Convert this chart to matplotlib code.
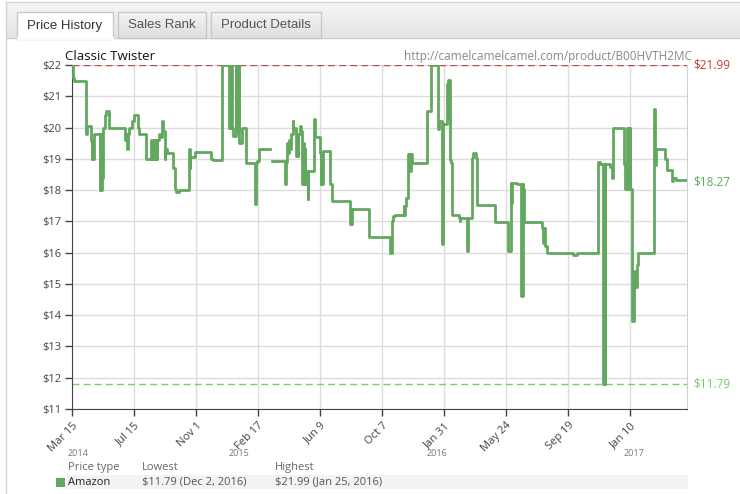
import numpy as np
import matplotlib
matplotlib.use("Agg")
import matplotlib.pyplot as plt
import matplotlib.transforms as mtransforms
from matplotlib.patches import Rectangle

plt.rcParams["font.family"] = ["Open Sans", "DejaVu Sans"]

title = "Classic Twister"
url = "http://camelcamelcamel.com/product/B00HVTH2MC"
tabs = ["Price History", "Sales Rank", "Product Details"]

# Amazon price, x = days since Mar 15 2014 (nan = gap in the record)
days = [0, 1, 4, 26.6, 27.5, 34.6, 36.4, 37.5, 39, 40.7, 51, 52.5, 54, 55.5, 57.4,
        60.5, 62, 68.5, 97.5, 100, 101.8, 104, 105.5, 111.7, 114.7, 122, 124, 137.6,
        146.9, 148, 151, 152, 156, 157, 158, 160, 162.2, 167.2, 168.5, 171.5, 172.5,
        175.8, 186.9, 190, 192, 197.4, 216, 217.7, 218.5, 227, 257.9, 260, 262, 264,
        268, 276.4, 291, 292, 293, 294.5, 296, 297.9, 302.8, 304, 305, 307, 308, 309,
        313.4, 321.3, 322.6, 338, 339.5, 342.3, 346, 351, 353, 357, 359, 366, 368.9,
        374, 377, 381, 384, 393.5, 395, 397, 399, 401, 403, 405, 407.7, 409, 414,
        415.5, 417, 418.5, 421, 423.5, 425, 426.5, 428, 430, 431, 433, 436, 437,
        447.8, 449, 458.2, 459.5, 461, 462.5, 464.4, 476.7, 479.9, 513.7, 515, 516,
        518, 549, 587.7, 590.9, 593.9, 597, 613.6, 614.5, 615.5, 617.3, 621.6, 622.5,
        623.5, 625, 626, 629, 637, 640, 642, 646, 655.6, 663.6, 677.1, 679, 683.4,
        685.2, 692.6, 693.5, 694.5, 695.6, 698.7, 700, 701.9, 715.4, 717, 718, 729.6,
        732.6, 738.9, 740.5, 746, 748.1, 782, 805.5, 811, 812.5, 814, 822.1, 830.1,
        833.2, 834.5, 836.2, 868.4, 871.4, 872.5, 874.5, 877.6, 926.9, 933.1, 973.1,
        976.2, 982.4, 983.5, 984.5, 986.1, 994.7, 997.9, 999.7, 1000.9, 1020.6,
        1022.5, 1025.6, 1027, 1028.5, 1030, 1031.7, 1032.5, 1034.9, 1036, 1039.1,
        1041, 1044.1, 1047.1, 1076.1, 1078, 1079.8, 1096.5, 1100.8, 1108.9, 1111.9,
        1116.8, 1137]
nan = np.nan
price = [22.0, 21.6, 21.5, 19.8, 20.04, 19.57, 18.98, 19.5, 18.98, 19.8, 18.0, 19.8,
         18.0, 18.4, 20.0, 20.4, 20.53, 20.0, 19.6, 19.8, 19.3, 19.8, 20.0, 20.2, 20.4,
         20.0, 19.8, 19.0, 19.6, 19.0, 19.6, 19.0, 19.6, 19.0, 19.6, 19.8, 19.7, 20.2,
         19.9, 19.0, 19.3, 19.2, 18.7, 18.02, 17.94, 18.0, 19.3, 18.7, 19.05, 19.22,
         19.0, 18.95, 18.95, nan, 18.95, 22.0, 20.0, 22.0, 20.0, 22.0, 20.0, 19.74,
         22.0, 19.9, 22.0, 19.9, 22.0, 19.5, 20.0, 19.35, 18.87, 17.54, 18.87, 18.92,
         19.3, nan, 19.3, nan, 19.3, nan, 18.92, nan, 18.92, nan, 18.92, 18.19, 18.9,
         19.5, 19.2, 19.6, 19.3, 19.8, 20.2, 20.0, 19.1, 19.8, 19.1, 19.8, 20.05, 19.9,
         18.2, 19.5, 18.2, 19.3, 18.2, 18.6, 17.7, 18.6, 20.26, 19.7, 19.2, 18.2, 19.2,
         18.2, 19.25, 18.2, 17.65, 16.9, 17.39, 16.9, 17.39, 16.51, 16.0, 17.02, 17.18,
         17.2, 17.5, 17.2, 17.5, 17.76, 19.14, 18.88, 19.14, 18.6, 19.14, 18.88, nan,
         18.88, nan, 18.88, 20.53, 22.0, 19.94, 20.2, 16.27, 20.1, 20.2, 21.4, 20.3,
         21.53, 18.97, 18.88, 17.2, 17.1, 17.0, 17.1, 16.04, 17.1, 19.04, 19.2, 19.04,
         17.51, 16.98, 16.04, 18.24, 17.6, 18.24, 18.2, 14.62, 18.2, 18.03, 16.98, 16.8,
         16.31, 16.8, 16.2, 15.98, 15.94, 15.98, 18.89, 18.85, 11.79, 18.85, 11.79,
         18.85, 18.75, 18.39, 18.75, 20.0, 18.83, 18.04, 20.0, 18.04, 20.0, 18.04, 20.0,
         18.04, 15.98, 13.8, 15.4, 14.9, 15.6, 15.98, 20.6, 18.8, 19.32, 19.0, 18.63,
         18.28, 18.4, 18.31, 18.31]

tick_labels = ["Mar 15", "Jul 15", "Nov 1", "Feb 17", "Jun 9", "Oct 7",
               "Jan 31", "May 24", "Sep 19", "Jan 10"]
tick_step = 114.7
year_labels = ["2014", "2015", "2016", "2017"]
year_days = [10.7, 308, 674, 1039]

highest = 21.99
lowest = 11.79
current = 18.27

table_head = ["Price type", "Lowest", "Highest"]
table_row = ["Amazon", "$11.79 (Dec 2, 2016)", "$21.99 (Jan 25, 2016)"]

green = "#63a85f"

fig = plt.figure(figsize=(7.4, 4.94), dpi=100)

# page / tab background drawn in pixel coordinates
bg = fig.add_axes([0, 0, 1, 1], zorder=-1)
bg.set_xlim(0, 740)
bg.set_ylim(494, 0)
bg.axis("off")
grad = np.linspace(0, 1, 50).reshape(-1, 1)
bg.imshow(grad, extent=[6, 740, 38, 2], cmap=plt.cm.colors.LinearSegmentedColormap.from_list(
    "g", ["#f5f5f5", "#e4e4e4"]), aspect="auto", zorder=0)
bg.plot([6, 740], [2, 2], color="#d4d4d4", lw=1)
bg.plot([6, 6], [2, 494], color="#d4d4d4", lw=1)
bg.plot([6, 740], [38, 38], color="#cccccc", lw=1)
tab_x = [(17, 113), (118, 206), (211, 321)]
for i, (lbl, (x0, x1)) in enumerate(zip(tabs, tab_x)):
    if i == 0:
        bg.add_patch(Rectangle((x0, 12), x1 - x0, 27, facecolor="white",
                               edgecolor="#c8c8c8", lw=1, zorder=2))
        bg.plot([x0 + 1, x1 - 1], [38.5, 38.5], color="white", lw=2, zorder=3)
    else:
        bg.imshow(grad, extent=[x0, x1, 38, 12], aspect="auto", zorder=2,
                  cmap=plt.cm.colors.LinearSegmentedColormap.from_list(
                      "t", ["#f4f4f4", "#dedede"]))
        bg.add_patch(Rectangle((x0, 12), x1 - x0, 26, facecolor="none",
                               edgecolor="#c8c8c8", lw=1, zorder=3))
    bg.text((x0 + x1) / 2, 25.5, lbl, ha="center", va="center", fontsize=9.5,
            family="Liberation Sans", color="#333333" if i == 0 else "#555555", zorder=4)

# legend table
bg.add_patch(Rectangle((66, 475), 622, 14, facecolor="#f3f3f3", edgecolor="none"))
bg.add_patch(Rectangle((56, 478), 9, 9, facecolor=green, edgecolor="none"))
col_x = [68, 142, 275]
for x, h, r in zip(col_x, table_head, table_row):
    bg.text(x, 467, h, fontsize=8, color="#666666", va="center")
    bg.text(x, 482, r, fontsize=8, color="#222222" if r == "Amazon" else "#555555",
            va="center")

# main chart
ax = fig.add_axes([72 / 740, 85 / 494, 615 / 740, 344 / 494])
ax.set_facecolor("none")
ax.plot(days, price, drawstyle="steps-post", color=green, lw=2, zorder=3)
ax.axhline(highest, color="#c0504d", lw=1, ls=(0, (5, 3)), zorder=2)
ax.axhline(lowest, color="#7acc6c", lw=1, ls=(0, (5, 3)), zorder=2)

ax.set_xlim(0, 1137)
ax.set_ylim(11, 22)
ax.set_yticks(range(11, 23))
ax.set_yticklabels([f"${v}" for v in range(11, 23)])
ax.set_xticks(np.arange(len(tick_labels)) * tick_step)
ax.set_xticklabels(tick_labels, rotation=45, ha="right", rotation_mode="anchor")
ax.grid(True, color="#dcdcdc", lw=1, zorder=0)
ax.set_axisbelow(True)
ax.tick_params(axis="both", length=5, width=1, color="#444444", labelsize=8,
               labelcolor="#444444", pad=3)
for s in ["top"]:
    ax.spines[s].set_visible(False)
ax.spines["right"].set_color("#d0d0d0")
ax.spines["left"].set_color("#444444")
ax.spines["bottom"].set_color("#444444")

trans = mtransforms.blended_transform_factory(ax.transAxes, ax.transData)
ax.text(1.01, highest, f"${highest}", transform=trans, color="#c83c3c",
        fontsize=8.5, va="center")
ax.text(1.01, current, f"${current}", transform=trans, color="#5fa85b",
        fontsize=8.5, va="center")
ax.text(1.01, lowest, f"${lowest}", transform=trans, color="#77c96c",
        fontsize=8.5, va="center")

ytrans = mtransforms.blended_transform_factory(ax.transData, ax.transAxes)
for yl, yd in zip(year_labels, year_days):
    ax.text(yd, -0.128, yl, transform=ytrans, fontsize=6.5, color="#777777",
            ha="center", va="center")

ax.text(-0.012, 1.024, title, transform=ax.transAxes, fontsize=9.5,
        color="#111111", ha="left", va="center")
ax.text(1.008, 1.024, url, transform=ax.transAxes, fontsize=8.5,
        color="#888888", ha="right", va="center")

fig.savefig("out.png", dpi=100)
